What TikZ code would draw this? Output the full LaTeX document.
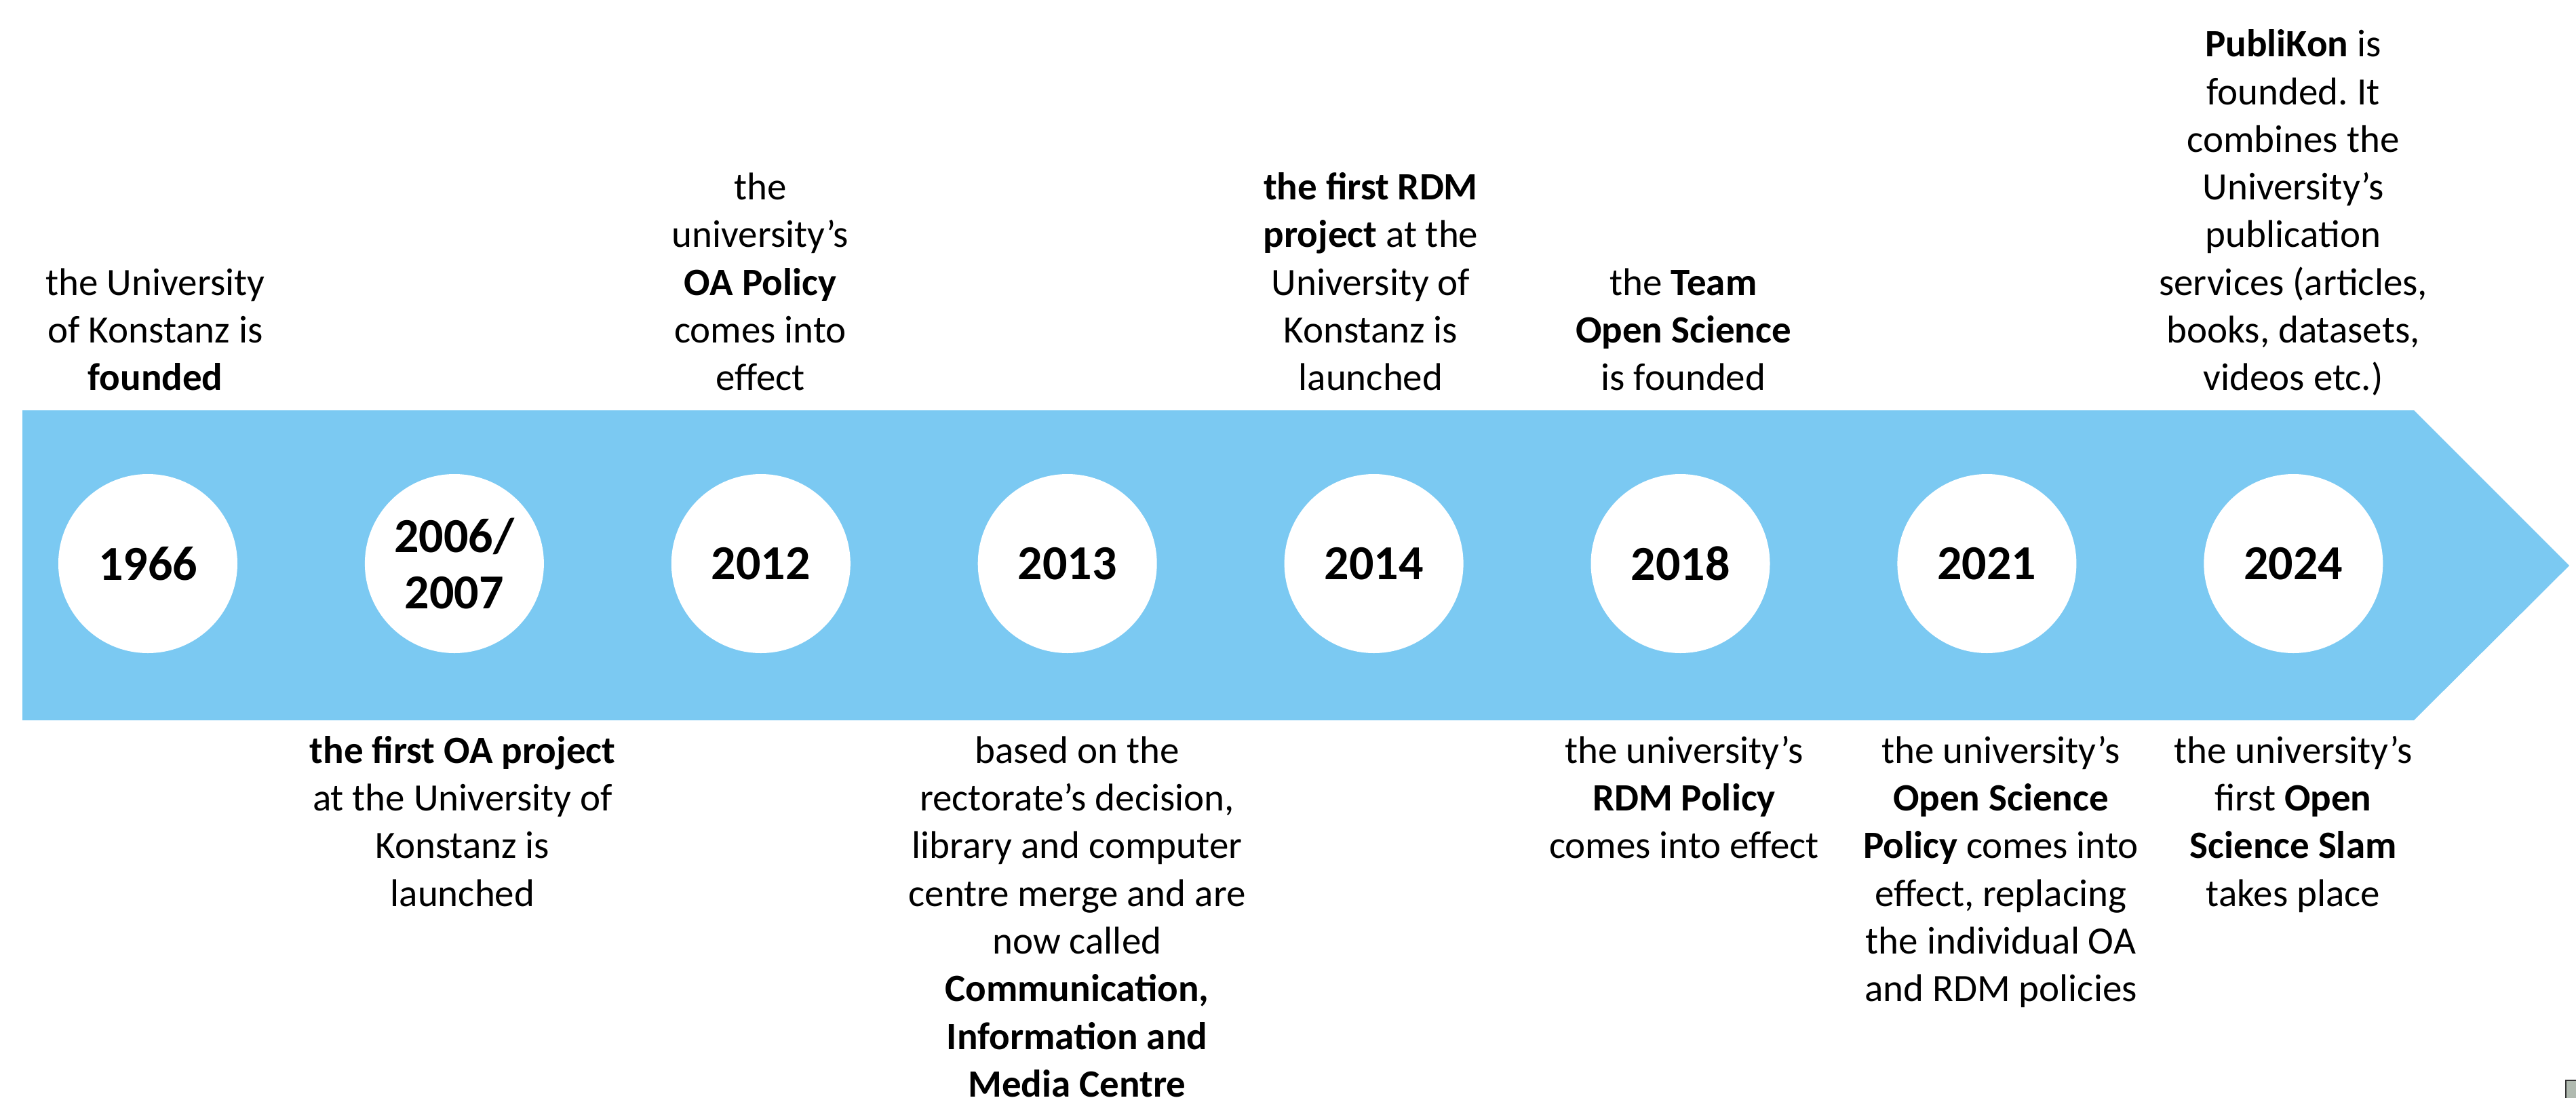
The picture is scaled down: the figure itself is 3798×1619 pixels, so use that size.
\documentclass[tikz,border=0pt]{standalone}
\usepackage{fontspec}
\setmainfont{Carlito}
\frenchspacing
\definecolor{bandblue}{RGB}{123,201,242}
\definecolor{handlegrey}{RGB}{176,186,176}
\newcommand{\topend}{\rule[-20pt]{0pt}{20pt}}
\newcommand{\botstart}{\rule{0pt}{50pt}}
\tikzset{
  yearc/.style={circle, fill=white, minimum size=264pt, inner sep=0pt, align=center,
    font=\fontsize{72}{83}\selectfont\bfseries},
  toptext/.style={anchor=south, inner sep=0pt, align=center,
    font=\fontsize{57}{70.3}\selectfont},
  bottext/.style={anchor=north, inner sep=0pt, align=center,
    font=\fontsize{57}{70.3}\selectfont},
}
\begin{document}
\begin{tikzpicture}[x=1pt,y=-1pt]
\useasboundingbox (0,0) rectangle (3798,1619);
\clip (0,0) rectangle (3798,1619);
% band arrow
\fill[bandblue] (33,605) -- (3559,605) -- (3788,834) -- (3559,1062) -- (33,1062) -- cycle;
% year circles
\node[yearc] (y1966) at (218,831) {1966};
\node[yearc] (y2006) at (669.9,831) {2006/\\2007};
\node[yearc] (y2012) at (1121.8,831) {2012};
\node[yearc] (y2013) at (1573.7,831) {2013};
\node[yearc] (y2014) at (2025.6,831) {2014};
\node[yearc] (y2018) at (2477.5,831) {2018};
\node[yearc] (y2021) at (2929.4,831) {2021};
\node[yearc] (y2024) at (3381.3,831) {2024};
% texts above
\node[toptext] (t1966) at (229,596) {the University\\of Konstanz is\\\textbf{founded}\topend};
\node[toptext] (t2012) at (1121,596) {the\\university’s\\\textbf{OA Policy}\\comes into\\effect\topend};
\node[toptext] (t2014) at (2021,596) {\textbf{the first RDM}\\\textbf{project} at the\\University of\\Konstanz is\\launched\topend};
\node[toptext] (t2018) at (2482,596) {the \textbf{Team}\\\textbf{Open Science}\\is founded\topend};
\node[toptext] (t2024) at (3381,596) {\textbf{PubliKon} is\\founded. It\\combines the\\University’s\\publication\\services (articles,\\books, datasets,\\videos etc.)\topend};
% texts below
\node[bottext] (b2006) at (682,1075) {\botstart\textbf{the first OA project}\\at the University of\\Konstanz is\\launched};
\node[bottext] (b2013) at (1588,1075) {\botstart based on the\\rectorate’s decision,\\library and computer\\centre merge and are\\now called\\\textbf{Communication,}\\\textbf{Information and}\\\textbf{Media Centre}};
\node[bottext] (b2018) at (2483,1075) {\botstart the university’s\\\textbf{RDM Policy}\\comes into effect};
\node[bottext] (b2021) at (2950,1075) {\botstart the university’s\\\textbf{Open Science}\\\textbf{Policy} comes into\\effect, replacing\\the individual OA\\and RDM policies};
\node[bottext] (b2024) at (3381,1075) {\botstart the university’s\\first \textbf{Open}\\\textbf{Science Slam}\\takes place};
% small grey handle at the corner
\filldraw[fill=handlegrey, draw=black!80, line width=2pt] (3783,1593) rectangle (3802,1623);
\end{tikzpicture}
\end{document}
